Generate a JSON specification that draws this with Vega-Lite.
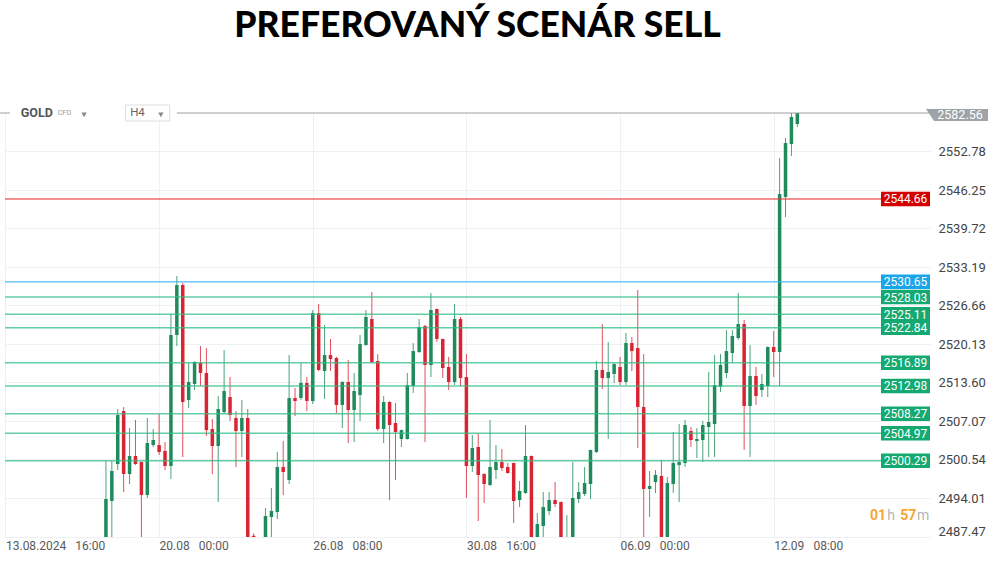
{
  "$schema": "https://vega.github.io/schema/vega-lite/v6.json",
  "width": 925,
  "height": 424,
  "autosize": "none",
  "padding": {"left": 5, "top": 113, "right": 70, "bottom": 25},
  "background": "white",
  "title": {
    "text": "PREFEROVANÝ SCENÁR SELL",
    "font": "Lato",
    "fontWeight": 900,
    "fontSize": 35.5,
    "color": "#000000",
    "anchor": "middle",
    "offset": 60,
    "dx": 10
  },
  "config": {"view": {"stroke": null}, "font": "Roboto", "scale": {"continuousPadding": 0}},
  "datasets": {
    "one": [{}],
    "candles": [
      {"i":17,"o":2485.0,"h":2500.26,"l":2483.5,"c":2493.83},
      {"i":18,"o":2493.49,"h":2500.26,"l":2485.0,"c":2498.57},
      {"i":19,"o":2499.75,"h":2509.07,"l":2498.74,"c":2508.05},
      {"i":20,"o":2508.73,"h":2509.41,"l":2495.02,"c":2498.06},
      {"i":21,"o":2498.06,"h":2505.85,"l":2496.37,"c":2501.11},
      {"i":22,"o":2501.11,"h":2507.21,"l":2499.6,"c":2499.75},
      {"i":23,"o":2500.09,"h":2500.2,"l":2486.0,"c":2494.50},
      {"i":24,"o":2494.50,"h":2507.55,"l":2494.00,"c":2503.31},
      {"i":25,"o":2502.97,"h":2505.68,"l":2502.64,"c":2503.82},
      {"i":26,"o":2502.97,"h":2508.22,"l":2501.28,"c":2501.79},
      {"i":27,"o":2501.96,"h":2503.48,"l":2498.74,"c":2499.42},
      {"i":28,"o":2499.42,"h":2525.17,"l":2497.21,"c":2521.61},
      {"i":29,"o":2521.61,"h":2531.60,"l":2519.74,"c":2530.08},
      {"i":30,"o":2530.08,"h":2530.4,"l":2500.94,"c":2510.26},
      {"i":31,"o":2510.60,"h":2516.86,"l":2509.24,"c":2513.65},
      {"i":32,"o":2513.31,"h":2517.2,"l":2512.29,"c":2517.03},
      {"i":33,"o":2516.86,"h":2519.74,"l":2512.97,"c":2515.17},
      {"i":34,"o":2515.17,"h":2519.40,"l":2504.50,"c":2505.51},
      {"i":35,"o":2505.68,"h":2507.38,"l":2498.06,"c":2502.81},
      {"i":36,"o":2502.81,"h":2511.27,"l":2493.32,"c":2509.07},
      {"i":37,"o":2508.56,"h":2519.06,"l":2508.22,"c":2512.12},
      {"i":38,"o":2511.10,"h":2514.49,"l":2507.04,"c":2508.05},
      {"i":39,"o":2507.55,"h":2508.73,"l":2499.25,"c":2505.34},
      {"i":40,"o":2505.34,"h":2510.60,"l":2500.94,"c":2507.55},
      {"i":41,"o":2507.55,"h":2509.07,"l":2482.0,"c":2484.0},
      {"i":42,"o":2487.6,"h":2488.0,"l":2483.0,"c":2484.5},
      {"i":43,"o":2481.0,"h":2486.0,"l":2479.0,"c":2484.0},
      {"i":44,"o":2486.5,"h":2492.30,"l":2485.0,"c":2490.94},
      {"i":45,"o":2490.78,"h":2495.69,"l":2487.0,"c":2491.79},
      {"i":46,"o":2491.62,"h":2501.79,"l":2490.44,"c":2499.25},
      {"i":47,"o":2499.25,"h":2503.65,"l":2494.50,"c":2498.40},
      {"i":48,"o":2497.04,"h":2518.22,"l":2496.37,"c":2510.93},
      {"i":49,"o":2510.93,"h":2512.63,"l":2507.88,"c":2510.43},
      {"i":50,"o":2510.93,"h":2516.86,"l":2510.60,"c":2513.48},
      {"i":51,"o":2513.48,"h":2514.49,"l":2508.73,"c":2510.43},
      {"i":52,"o":2510.43,"h":2525.84,"l":2509.92,"c":2525.33},
      {"i":53,"o":2525.33,"h":2526.86,"l":2515.51,"c":2515.68},
      {"i":54,"o":2515.51,"h":2523.30,"l":2510.77,"c":2518.22},
      {"i":55,"o":2518.22,"h":2520.93,"l":2515.51,"c":2517.54},
      {"i":56,"o":2517.71,"h":2517.9,"l":2508.39,"c":2509.75},
      {"i":57,"o":2509.75,"h":2513.8,"l":2505.85,"c":2513.65},
      {"i":58,"o":2513.65,"h":2517.37,"l":2503.31,"c":2508.90},
      {"i":59,"o":2508.90,"h":2515.17,"l":2503.48,"c":2512.12},
      {"i":60,"o":2511.44,"h":2521.61,"l":2507.04,"c":2520.08},
      {"i":61,"o":2519.91,"h":2525.84,"l":2519.8,"c":2524.66},
      {"i":62,"o":2524.32,"h":2528.89,"l":2516.86,"c":2517.03},
      {"i":63,"o":2517.20,"h":2518.39,"l":2505.34,"c":2505.68},
      {"i":64,"o":2505.68,"h":2511.27,"l":2503.31,"c":2510.26},
      {"i":65,"o":2510.26,"h":2510.4,"l":2493.66,"c":2506.36},
      {"i":66,"o":2506.70,"h":2510.09,"l":2497.04,"c":2505.17},
      {"i":67,"o":2503.99,"h":2505.6,"l":2502.64,"c":2505.51},
      {"i":68,"o":2503.99,"h":2515.17,"l":2503.9,"c":2513.14},
      {"i":69,"o":2512.97,"h":2520.25,"l":2511.78,"c":2518.89},
      {"i":70,"o":2518.72,"h":2524.32,"l":2518.6,"c":2522.96},
      {"i":71,"o":2523.13,"h":2523.3,"l":2503.48,"c":2516.53},
      {"i":72,"o":2516.53,"h":2528.72,"l":2514.49,"c":2525.84},
      {"i":73,"o":2526.01,"h":2526.1,"l":2520.42,"c":2520.93},
      {"i":74,"o":2520.93,"h":2521.0,"l":2514.32,"c":2516.02},
      {"i":75,"o":2516.19,"h":2517.88,"l":2512.29,"c":2513.65},
      {"i":76,"o":2513.65,"h":2526.86,"l":2513.14,"c":2524.32},
      {"i":77,"o":2524.32,"h":2524.66,"l":2512.97,"c":2514.32},
      {"i":78,"o":2514.49,"h":2518.39,"l":2494.00,"c":2499.42},
      {"i":79,"o":2499.42,"h":2504.67,"l":2498.40,"c":2502.47},
      {"i":80,"o":2502.64,"h":2504.84,"l":2490.10,"c":2497.89},
      {"i":81,"o":2498.06,"h":2498.2,"l":2493.15,"c":2496.37},
      {"i":82,"o":2496.20,"h":2507.21,"l":2496.03,"c":2499.25},
      {"i":83,"o":2498.74,"h":2502.97,"l":2497.21,"c":2500.09},
      {"i":84,"o":2500.09,"h":2502.30,"l":2498.57,"c":2499.08},
      {"i":85,"o":2499.25,"h":2499.92,"l":2498.1,"c":2498.23},
      {"i":86,"o":2499.92,"h":2500.0,"l":2489.76,"c":2493.49},
      {"i":87,"o":2493.66,"h":2496.87,"l":2492.47,"c":2495.19},
      {"i":88,"o":2494.85,"h":2506.36,"l":2494.7,"c":2501.11},
      {"i":89,"o":2501.11,"h":2501.2,"l":2482.0,"c":2484.0},
      {"i":90,"o":2485.0,"h":2491.45,"l":2483.5,"c":2489.59},
      {"i":91,"o":2489.25,"h":2495.02,"l":2487.3,"c":2492.47},
      {"i":92,"o":2491.79,"h":2495.02,"l":2491.11,"c":2493.66},
      {"i":93,"o":2493.66,"h":2496.70,"l":2492.47,"c":2492.98},
      {"i":94,"o":2493.32,"h":2493.4,"l":2483.0,"c":2484.5},
      {"i":95,"o":2481.5,"h":2491.11,"l":2480.0,"c":2485.5},
      {"i":96,"o":2485.0,"h":2500.09,"l":2483.5,"c":2494.00},
      {"i":97,"o":2493.83,"h":2496.70,"l":2493.15,"c":2495.02},
      {"i":98,"o":2494.68,"h":2499.25,"l":2494.33,"c":2496.54},
      {"i":99,"o":2496.37,"h":2502.2,"l":2493.83,"c":2502.13},
      {"i":100,"o":2501.79,"h":2517.20,"l":2501.62,"c":2515.68},
      {"i":101,"o":2515.68,"h":2523.47,"l":2512.46,"c":2514.32},
      {"i":102,"o":2514.32,"h":2520.42,"l":2503.99,"c":2515.34},
      {"i":103,"o":2515.00,"h":2516.8,"l":2513.48,"c":2516.69},
      {"i":104,"o":2516.19,"h":2517.88,"l":2513.14,"c":2513.65},
      {"i":105,"o":2513.65,"h":2521.95,"l":2513.14,"c":2520.25},
      {"i":106,"o":2520.25,"h":2521.27,"l":2515.51,"c":2518.89},
      {"i":107,"o":2519.40,"h":2529.23,"l":2502.47,"c":2509.41},
      {"i":108,"o":2509.41,"h":2518.39,"l":2485.0,"c":2495.53},
      {"i":109,"o":2495.53,"h":2498.57,"l":2490.78,"c":2496.03},
      {"i":110,"o":2496.70,"h":2498.74,"l":2494.85,"c":2497.89},
      {"i":111,"o":2497.72,"h":2500.43,"l":2482.0,"c":2484.0},
      {"i":112,"o":2485.0,"h":2497.55,"l":2483.5,"c":2496.54},
      {"i":113,"o":2496.37,"h":2505.17,"l":2494.85,"c":2499.92},
      {"i":114,"o":2499.58,"h":2506.53,"l":2493.32,"c":2500.09},
      {"i":115,"o":2499.92,"h":2507.21,"l":2499.25,"c":2506.36},
      {"i":116,"o":2505.34,"h":2506.02,"l":2502.64,"c":2503.82},
      {"i":117,"o":2503.65,"h":2505.85,"l":2500.77,"c":2503.99},
      {"i":118,"o":2503.82,"h":2507.04,"l":2500.09,"c":2506.36},
      {"i":119,"o":2506.02,"h":2515.34,"l":2500.94,"c":2506.87},
      {"i":120,"o":2506.53,"h":2518.22,"l":2500.94,"c":2513.14},
      {"i":121,"o":2512.80,"h":2518.39,"l":2511.95,"c":2516.53},
      {"i":122,"o":2515.17,"h":2522.45,"l":2514.32,"c":2518.89},
      {"i":123,"o":2518.56,"h":2522.45,"l":2516.86,"c":2521.44},
      {"i":124,"o":2521.10,"h":2528.72,"l":2520.76,"c":2523.47},
      {"i":125,"o":2523.47,"h":2524.15,"l":2502.13,"c":2509.58},
      {"i":126,"o":2509.58,"h":2519.91,"l":2500.94,"c":2514.66},
      {"i":127,"o":2514.66,"h":2516.19,"l":2509.75,"c":2511.27},
      {"i":128,"o":2512.29,"h":2515.00,"l":2511.10,"c":2513.31},
      {"i":129,"o":2512.97,"h":2519.7,"l":2511.10,"c":2519.57},
      {"i":130,"o":2519.57,"h":2522.28,"l":2514.49,"c":2518.72},
      {"i":131,"o":2518.72,"h":2551.59,"l":2512.97,"c":2545.49},
      {"i":132,"o":2544.99,"h":2554.98,"l":2541.60,"c":2554.13},
      {"i":133,"o":2553.96,"h":2559.39,"l":2551.93,"c":2558.54},
      {"i":134,"o":2557.35,"h":2559.72,"l":2556.84,"c":2559.39}
    ],
    "levels": [
      {"v":2544.66,"k":"SL"},
      {"v":2530.65,"k":"Entry"},
      {"v":2528.03,"k":"TP"},
      {"v":2525.11,"k":"TP"},
      {"v":2522.84,"k":"TP"},
      {"v":2516.89,"k":"TP"},
      {"v":2512.98,"k":"TP"},
      {"v":2508.27,"k":"TP"},
      {"v":2504.97,"k":"TP"},
      {"v":2500.29,"k":"TP"}
    ]
  },
  "layer": [
    {
      "data": {"name": "candles"},
      "mark": {"type": "rule", "strokeWidth": 1, "opacity": 0.8, "clip": true},
      "encoding": {
        "x": {"field": "i", "type": "quantitative",
          "scale": {"domain": [-0.08, 156.45], "nice": false, "zero": false, "padding": 0},
          "axis": {
            "values": [0, 26, 52, 78, 104, 130],
            "labelExpr": "datum.value == 0 ? '13.08.2024\u2002 16:00' : datum.value == 26 ? '20.08\u2002 00:00' : datum.value == 52 ? '26.08\u2002 08:00' : datum.value == 78 ? '30.08\u2002 16:00' : datum.value == 104 ? '06.09\u2002 00:00' : '12.09\u2002 08:00'",
            "labelAlign": "left",
            "labelPadding": 3,
            "labelFont": "Roboto",
            "labelFontSize": 12,
            "labelColor": "#5a5a5a",
            "labelOverlap": false,
            "ticks": false,
            "domain": false,
            "grid": true,
            "gridColor": "#eef0f3",
            "title": null
          }
        },
        "y": {"field": "l", "type": "quantitative",
          "scale": {"domain": [2487.39, 2559.22], "nice": false, "zero": false, "padding": 0},
          "axis": {
            "orient": "right",
            "values": [2487.47, 2494.01, 2500.54, 2507.07, 2513.60, 2520.13, 2526.66, 2533.19, 2539.72, 2546.25, 2552.78],
            "format": ".2f",
            "labelPadding": 8,
            "labelOffset": {"condition": {"test": "datum.value < 2490", "value": -5}, "value": 0.5},
            "labelFont": "Roboto",
            "labelFontSize": 13,
            "labelColor": "#444444",
            "ticks": false,
            "domain": false,
            "grid": true,
            "gridColor": "#eef0f3",
            "title": null
          }
        },
        "y2": {"field": "h"},
        "color": {"condition": {"test": "datum.c >= datum.o", "value": "#1f8a5b"}, "value": "#d92433"}
      }
    },
    {
      "data": {"name": "candles"},
      "mark": {"type": "bar", "orient": "vertical", "width": 3.5, "clip": true},
      "encoding": {
        "x": {"field": "i", "type": "quantitative"},
        "y": {"field": "o", "type": "quantitative"},
        "y2": {"field": "c"},
        "color": {"condition": {"test": "datum.c >= datum.o", "value": "#1f8a5b"}, "value": "#d92433"}
      }
    },
    {
      "data": {"name": "levels"},
      "mark": {"type": "rule", "strokeWidth": 1.5, "opacity": 0.75},
      "encoding": {
        "y": {"field": "v", "type": "quantitative"},
        "color": {"condition": [
          {"test": "datum.k == 'SL'", "value": "#e53935"},
          {"test": "datum.k == 'Entry'", "value": "#3db4f2"}
        ], "value": "#2fbd86"}
      }
    },
    {
      "data": {"name": "levels"},
      "mark": {"type": "bar", "orient": "horizontal", "height": 14.5},
      "encoding": {
        "x": {"datum": 148.16},
        "x2": {"datum": 156.45},
        "y": {"field": "v", "type": "quantitative"},
        "color": {"condition": [
          {"test": "datum.k == 'SL'", "value": "#d40000"},
          {"test": "datum.k == 'Entry'", "value": "#18a5ea"}
        ], "value": "#13a970"}
      }
    },
    {
      "data": {"name": "levels"},
      "mark": {"type": "text", "font": "Roboto", "fontSize": 12, "color": "white", "align": "center", "baseline": "middle", "dy": 0.5},
      "encoding": {
        "x": {"datum": 152.3},
        "y": {"field": "v", "type": "quantitative"},
        "text": {"field": "v", "type": "quantitative", "format": ".2f"}
      }
    },
    {
      "data": {"name": "one"},
      "mark": {"type": "rule", "color": "#9a9ea3", "strokeWidth": 1},
      "encoding": {"x": {"datum": -0.95}, "x2": {"datum": 0.75}, "y": {"datum": 2559.22}}
    },
    {
      "data": {"name": "one"},
      "mark": {"type": "rule", "color": "#9a9ea3", "strokeWidth": 1},
      "encoding": {"x": {"datum": 29.0}, "x2": {"datum": 156.45}, "y": {"datum": 2559.22}}
    },
    {
      "data": {"name": "one"},
      "mark": {"type": "point", "filled": true, "opacity": 1, "color": "#9ea3a8", "size": 3844, "xOffset": 27, "yOffset": 2, "clip": false,
        "shape": "M -1 -0.19 L 1 -0.19 L 1 0.19 L -0.74 0.19 Z"},
      "encoding": {"x": {"datum": 156.45}, "y": {"datum": 2559.22}}
    },
    {
      "data": {"name": "one"},
      "mark": {"type": "text", "text": "2582.56", "font": "Roboto", "fontSize": 12.5, "color": "white", "align": "center", "baseline": "middle", "dx": 30, "dy": 2},
      "encoding": {"x": {"datum": 156.45}, "y": {"datum": 2559.22}}
    },
    {
      "data": {"name": "one"},
      "mark": {"type": "text", "text": "GOLD", "font": "Roboto", "fontWeight": "bold", "fontSize": 12.5, "color": "#555555", "align": "left", "baseline": "middle"},
      "encoding": {"x": {"datum": 2.6}, "y": {"datum": 2559.22}}
    },
    {
      "data": {"name": "one"},
      "mark": {"type": "text", "text": "CFD", "font": "Roboto", "fontSize": 7.5, "color": "#a0a0a0", "align": "left", "baseline": "middle"},
      "encoding": {"x": {"datum": 8.8}, "y": {"datum": 2559.22}}
    },
    {
      "data": {"name": "one"},
      "mark": {"type": "point", "shape": "triangle-down", "filled": true, "color": "#888888", "size": 28, "opacity": 1},
      "encoding": {"x": {"datum": 13.3}, "y": {"datum": 2558.9}}
    },
    {
      "data": {"name": "one"},
      "mark": {"type": "bar", "orient": "horizontal", "height": 16, "color": "white", "stroke": "#dddddd", "strokeWidth": 1},
      "encoding": {"x": {"datum": 20.3}, "x2": {"datum": 27.8}, "y": {"datum": 2559.22}}
    },
    {
      "data": {"name": "one"},
      "mark": {"type": "text", "text": "H4", "font": "Roboto", "fontSize": 11.5, "color": "#666666", "align": "left", "baseline": "middle"},
      "encoding": {"x": {"datum": 21.1}, "y": {"datum": 2559.22}}
    },
    {
      "data": {"name": "one"},
      "mark": {"type": "point", "shape": "triangle-down", "filled": true, "color": "#888888", "size": 28, "opacity": 1},
      "encoding": {"x": {"datum": 26.3}, "y": {"datum": 2558.9}}
    },
    {
      "data": {"name": "one"},
      "mark": {"type": "text", "text": "01", "font": "Roboto", "fontWeight": "bold", "fontSize": 14, "color": "#f7a535", "align": "left", "baseline": "middle"},
      "encoding": {"x": {"datum": 146.3}, "y": {"datum": 2490.9}}
    },
    {
      "data": {"name": "one"},
      "mark": {"type": "text", "text": "h", "font": "Roboto", "fontSize": 14, "color": "#b5b5b5", "align": "left", "baseline": "middle"},
      "encoding": {"x": {"datum": 149.2}, "y": {"datum": 2490.9}}
    },
    {
      "data": {"name": "one"},
      "mark": {"type": "text", "text": "57", "font": "Roboto", "fontWeight": "bold", "fontSize": 14, "color": "#f7a535", "align": "left", "baseline": "middle"},
      "encoding": {"x": {"datum": 151.4}, "y": {"datum": 2490.9}}
    },
    {
      "data": {"name": "one"},
      "mark": {"type": "text", "text": "m", "font": "Roboto", "fontSize": 14, "color": "#b5b5b5", "align": "left", "baseline": "middle"},
      "encoding": {"x": {"datum": 154.25}, "y": {"datum": 2490.9}}
    }
  ]
}
